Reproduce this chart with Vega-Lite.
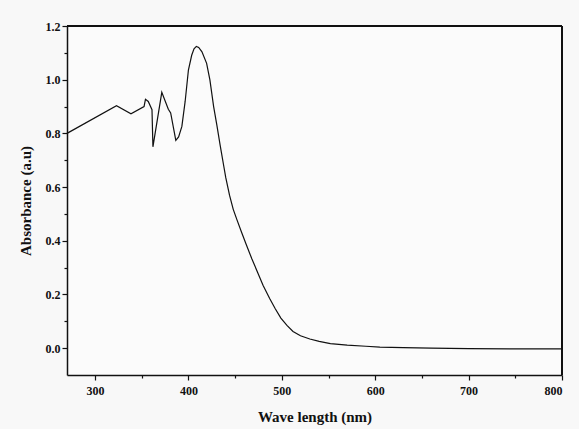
{
  "$schema": "https://vega.github.io/schema/vega-lite/v6.json",
  "width": 495,
  "height": 349,
  "autosize": {"type": "none"},
  "padding": {"left": 67, "top": 26, "right": 17, "bottom": 54},
  "background": "#f8f8f8",
  "config": {
    "font": "Times New Roman",
    "view": {"stroke": null, "fill": "#fbfbfb"},
    "axis": {
      "labelFont": "Times New Roman",
      "titleFont": "Times New Roman",
      "labelFontWeight": "bold",
      "titleFontWeight": "bold",
      "labelColor": "#111111",
      "titleColor": "#111111",
      "domainColor": "#111111",
      "tickColor": "#111111",
      "domainWidth": 1.5,
      "tickWidth": 1.2,
      "grid": false,
      "labelFontSize": 12,
      "titleFontSize": 15
    }
  },
  "data": {
    "values": [
      {"wl": 270, "abs": 0.800},
      {"wl": 323, "abs": 0.903},
      {"wl": 338.5, "abs": 0.873},
      {"wl": 352.5, "abs": 0.900},
      {"wl": 354, "abs": 0.927},
      {"wl": 357, "abs": 0.919},
      {"wl": 361, "abs": 0.888},
      {"wl": 362, "abs": 0.750},
      {"wl": 371.5, "abs": 0.953},
      {"wl": 378.5, "abs": 0.890},
      {"wl": 381, "abs": 0.876},
      {"wl": 386.5, "abs": 0.774},
      {"wl": 389.5, "abs": 0.787},
      {"wl": 393, "abs": 0.826},
      {"wl": 396.5, "abs": 0.919},
      {"wl": 400, "abs": 1.036},
      {"wl": 403.5, "abs": 1.091},
      {"wl": 406, "abs": 1.115},
      {"wl": 408.5, "abs": 1.124},
      {"wl": 411, "abs": 1.120},
      {"wl": 414.5, "abs": 1.104},
      {"wl": 419.5, "abs": 1.061},
      {"wl": 423, "abs": 0.999},
      {"wl": 427, "abs": 0.900},
      {"wl": 430.5, "abs": 0.830},
      {"wl": 434, "abs": 0.755},
      {"wl": 437.5, "abs": 0.685},
      {"wl": 440, "abs": 0.635},
      {"wl": 444, "abs": 0.570},
      {"wl": 448, "abs": 0.517},
      {"wl": 452, "abs": 0.478},
      {"wl": 457, "abs": 0.431},
      {"wl": 462, "abs": 0.385},
      {"wl": 468, "abs": 0.332},
      {"wl": 474, "abs": 0.283},
      {"wl": 480, "abs": 0.233},
      {"wl": 487, "abs": 0.185},
      {"wl": 493, "abs": 0.147},
      {"wl": 499, "abs": 0.112},
      {"wl": 505.5, "abs": 0.085},
      {"wl": 512, "abs": 0.062},
      {"wl": 520, "abs": 0.046},
      {"wl": 530, "abs": 0.034},
      {"wl": 540, "abs": 0.025},
      {"wl": 552, "abs": 0.017},
      {"wl": 570, "abs": 0.011},
      {"wl": 590, "abs": 0.007},
      {"wl": 605, "abs": 0.004},
      {"wl": 630, "abs": 0.002},
      {"wl": 660, "abs": 0.000},
      {"wl": 700, "abs": -0.002},
      {"wl": 750, "abs": -0.003},
      {"wl": 800, "abs": -0.003}
    ]
  },
  "layer": [
    {
      "mark": {"type": "line", "color": "#111111", "strokeWidth": 1.2, "interpolate": "linear"},
      "encoding": {
        "x": {
          "field": "wl", "type": "quantitative",
          "scale": {"domain": [270, 800], "nice": false, "zero": false},
          "axis": {"title": "Wave length (nm)", "values": [300, 400, 500, 600, 700, 800], "tickSize": 5, "labelPadding": 5, "titlePadding": 13, "format": "d"}
        },
        "y": {
          "field": "abs", "type": "quantitative",
          "scale": {"domain": [-0.1, 1.2], "nice": false, "zero": false},
          "axis": {"title": "Absorbance (a.u)", "values": [0, 0.2, 0.4, 0.6, 0.8, 1.0, 1.2], "format": ".1f", "tickSize": 5, "labelPadding": 2, "titlePadding": 12}
        }
      }
    },
    {
      "mark": {"type": "line", "opacity": 0},
      "encoding": {
        "x": {
          "field": "wl", "type": "quantitative",
          "scale": {"domain": [270, 800], "nice": false, "zero": false},
          "axis": {"orient": "bottom", "title": null, "values": [350, 450, 550, 650, 750], "labels": false, "tickSize": 3, "domain": false}
        },
        "y": {
          "field": "abs", "type": "quantitative",
          "scale": {"domain": [-0.1, 1.2], "nice": false, "zero": false},
          "axis": {"orient": "left", "title": null, "values": [0.1, 0.3, 0.5, 0.7, 0.9, 1.1], "labels": false, "tickSize": 3, "domain": false}
        }
      }
    },
    {
      "mark": {"type": "rule", "color": "#111111", "strokeWidth": 1.5},
      "encoding": {
        "x": {"datum": 800, "type": "quantitative", "axis": null}
      }
    },
    {
      "mark": {"type": "rule", "color": "#111111", "strokeWidth": 1.5},
      "encoding": {
        "y": {"datum": 1.2, "type": "quantitative", "axis": null}
      }
    }
  ],
  "resolve": {"axis": {"x": "independent", "y": "independent"}}
}
